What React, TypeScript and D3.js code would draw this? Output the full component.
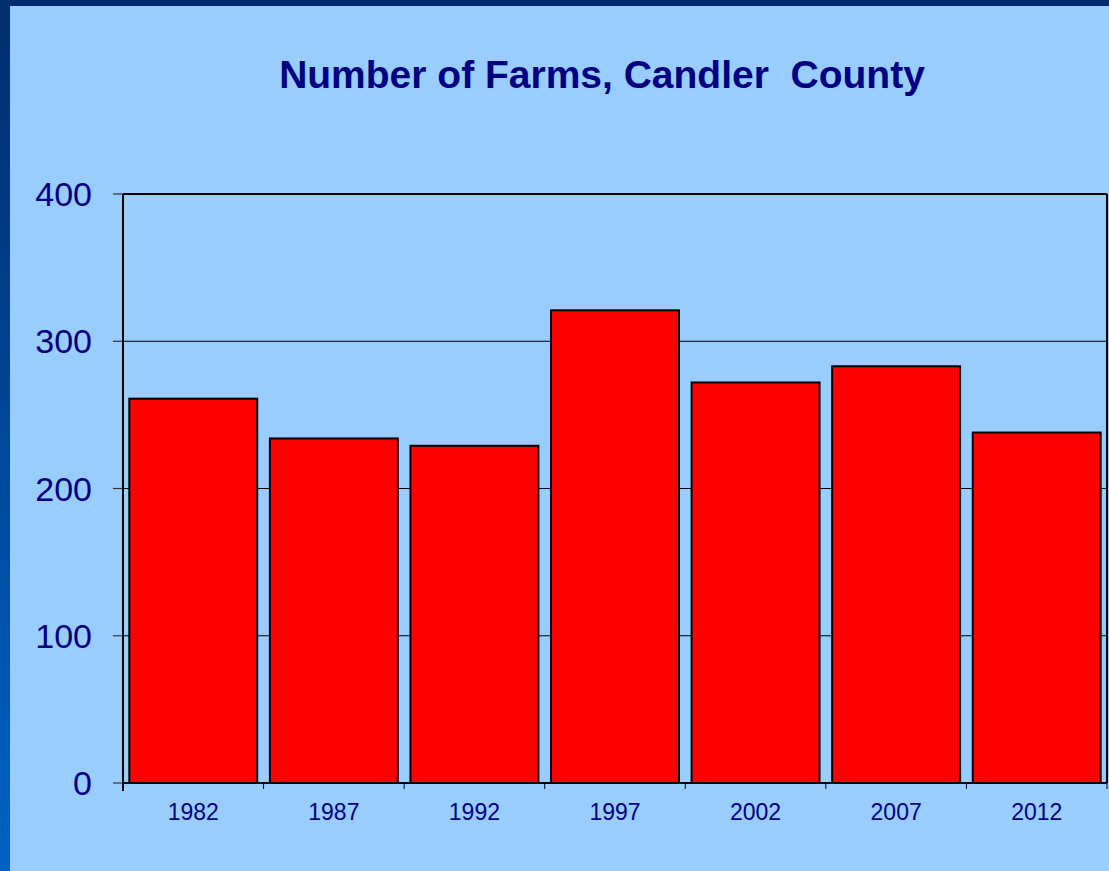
import React from "react";
import * as d3 from "d3";

const years = ["1982", "1987", "1992", "1997", "2002", "2007", "2012"];
const farms = [261, 234, 229, 321, 272, 283, 238];
const yTicks = [0, 100, 200, 300, 400];
const title = "Number of Farms, Candler\u00A0 County";

const W = 1109;
const H = 871;
const plot = { left: 123, right: 1107, top: 194, bottom: 783 };

export default function App() {
  const x = d3
    .scaleBand<string>()
    .domain(years)
    .range([plot.left, plot.right])
    .paddingInner(0.09)
    .paddingOuter(0.045);
  const y = d3.scaleLinear().domain([0, 400]).range([plot.bottom, plot.top]);
  const step = x.step();
  const navy = "#000080";

  return (
    <svg
      width={W}
      height={H}
      style={{ position: "absolute", left: 0, top: 0, display: "block" }}
      fontFamily="Arial, 'Liberation Sans', sans-serif"
    >
      <defs>
        <linearGradient id="side" x1="0" y1="0" x2="0" y2="1">
          <stop offset="0" stopColor="#002D6C" />
          <stop offset="1" stopColor="#0062C4" />
        </linearGradient>
      </defs>
      <rect x={0} y={0} width={W} height={H} fill="#99CCFF" />
      <rect x={0} y={0} width={10} height={H} fill="url(#side)" />
      <rect x={0} y={0} width={W} height={6} fill="#002D6F" />

      <text
        x={602}
        y={88}
        textAnchor="middle"
        fontWeight="bold"
        fontSize={39}
        fill={navy}
      >
        {title}
      </text>

      {yTicks.map((t) => (
        <g key={t}>
          {t > 0 && t < 400 && (
            <line x1={plot.left} x2={plot.right} y1={y(t)} y2={y(t)} stroke="#000" strokeWidth={1} />
          )}
          <line x1={113} x2={plot.left} y1={y(t)} y2={y(t)} stroke="#333" strokeWidth={1.2} />
          <text x={92} y={y(t) + 12} textAnchor="end" fontSize={34} fill={navy}>
            {t}
          </text>
        </g>
      ))}

      {years.map((yr, i) => (
        <g key={yr}>
          <rect
            x={x(yr)}
            y={y(farms[i])}
            width={x.bandwidth()}
            height={plot.bottom - y(farms[i])}
            fill="#FF0000"
            stroke="#000"
            strokeWidth={2}
          />
          <line
            x1={plot.left + step * (i + 1)}
            x2={plot.left + step * (i + 1)}
            y1={plot.bottom}
            y2={plot.bottom + 6}
            stroke="#000"
            strokeWidth={1}
          />
          <text
            x={(x(yr) as number) + x.bandwidth() / 2}
            y={820}
            textAnchor="middle"
            fontSize={23}
            fill={navy}
          >
            {yr}
          </text>
        </g>
      ))}

      <line x1={plot.left} x2={plot.right} y1={plot.top} y2={plot.top} stroke="#000" strokeWidth={2} />
      <line x1={plot.right} x2={plot.right} y1={plot.top} y2={plot.bottom} stroke="#000" strokeWidth={2} />
      <line x1={plot.left} x2={plot.left} y1={plot.top} y2={plot.bottom + 8} stroke="#000" strokeWidth={2} />
      <line x1={plot.left} x2={plot.right} y1={plot.bottom} y2={plot.bottom} stroke="#000" strokeWidth={2} />
    </svg>
  );
}
